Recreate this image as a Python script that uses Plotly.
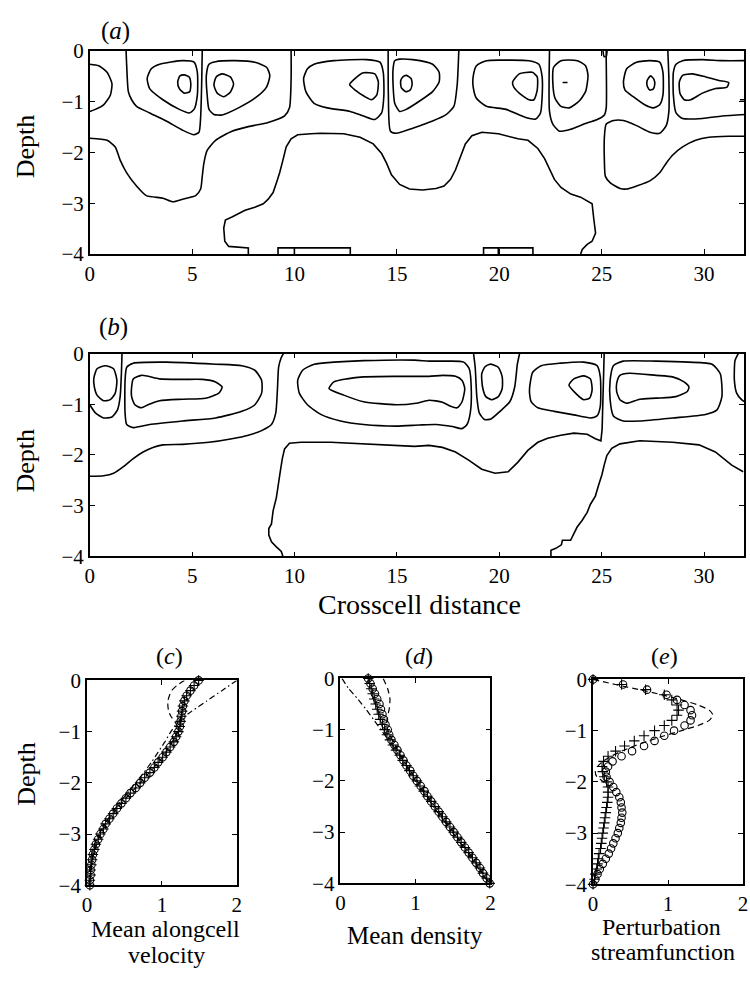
import plotly.graph_objects as go

FONT = "Liberation Serif"

# ---------------- panel (a): traced contour lines (crosscell distance, depth) ----------------
a_edge_cell = [(0, -0.26), (0.43, -0.29), (0.84, -0.42), (1.08, -0.64), (1.0, -0.87), (0.67, -1.06), (0.27, -1.15), (0, -1.19)]
a_open_1 = [(1.77, 0), (1.80, -0.29), (1.88, -0.80), (2.04, -0.96), (2.28, -1.09), (2.92, -1.22), (3.73, -1.38), (4.53, -1.56),
            (5.09, -1.65), (5.33, -1.60), (5.41, -1.31), (5.46, -0.67), (5.49, 0)]
a_ring_1_outer = [(3.41, -0.26), (4.53, -0.19), (5.09, -0.22), (5.25, -0.42), (5.25, -0.87), (5.09, -1.15), (4.85, -1.22), (4.37, -1.15),
                  (3.57, -0.96), (2.92, -0.74), (2.80, -0.54), (3.00, -0.35), (3.41, -0.26)]
a_ring_1_inner = [(4.61, -0.47), (4.85, -0.51), (4.93, -0.64), (4.88, -0.80), (4.61, -0.83), (4.37, -0.74), (4.29, -0.61), (4.40, -0.49), (4.61, -0.47)]
a_ring_2_outer = [(6.14, -0.21), (7.10, -0.19), (8.06, -0.22), (8.63, -0.32), (8.79, -0.48), (8.63, -0.71), (8.06, -0.93), (7.26, -1.12),
                  (6.46, -1.26), (6.06, -1.25), (5.82, -1.15), (5.73, -0.87), (5.69, -0.48), (5.82, -0.26), (6.14, -0.21)]
a_ring_2_inner = [(6.46, -0.45), (6.86, -0.51), (7.02, -0.65), (6.86, -0.81), (6.54, -0.90), (6.22, -0.83), (6.06, -0.67), (6.17, -0.51), (6.46, -0.45)]
a_open_2 = [(9.83, 0), (9.83, -0.54), (9.75, -1.12), (9.51, -1.28), (8.71, -1.41), (7.74, -1.49), (6.94, -1.58), (6.14, -1.76), (5.73, -1.96),
            (5.57, -2.21), (5.49, -2.47), (5.41, -2.72), (5.17, -2.85), (4.53, -2.92), (4.05, -2.97), (3.57, -2.90), (2.76, -2.85),
            (2.28, -2.66), (1.80, -2.40), (1.48, -2.15), (1.24, -1.89), (0.84, -1.76), (0, -1.72)]
a_deep = [(7.74, -4.0), (7.74, -3.88), (6.78, -3.85), (6.59, -3.75), (6.54, -3.49), (6.62, -3.33), (6.94, -3.27), (7.26, -3.21), (7.58, -3.14),
          (8.06, -3.08), (8.47, -3.01), (8.71, -2.92), (8.95, -2.79), (9.11, -2.60), (9.27, -2.40), (9.43, -2.15), (9.59, -1.89), (9.83, -1.73),
          (10.15, -1.65), (10.80, -1.63), (11.27, -1.62), (12.40, -1.63), (13.20, -1.70), (13.84, -1.83), (14.25, -2.02), (14.49, -2.21),
          (14.73, -2.44), (15.13, -2.63), (15.61, -2.72), (16.25, -2.74), (16.90, -2.71), (17.30, -2.66), (17.62, -2.53), (17.86, -2.34),
          (18.10, -2.08), (18.34, -1.83), (18.66, -1.67), (19.15, -1.60), (19.95, -1.63), (20.91, -1.73), (21.40, -1.76), (21.88, -1.92),
          (22.21, -2.12), (22.45, -2.34), (22.69, -2.53), (23.01, -2.69), (23.49, -2.82), (23.97, -2.88), (24.37, -2.97), (24.53, -3.01),
          (24.61, -3.30), (24.70, -3.59), (24.53, -3.75), (24.29, -3.81), (24.05, -3.91), (23.97, -4.0)]
a_bottom_1 = [(9.19, -4.0), (9.19, -3.88), (12.72, -3.88), (12.72, -4.0)]
a_bottom_1b = [(9.99, -3.88), (9.99, -4.0)]
a_bottom_2 = [(19.23, -4.0), (19.23, -3.88), (21.64, -3.88), (21.64, -4.0)]
a_bottom_2b = [(19.95, -3.88), (19.95, -4.0)]
a_ring_3_outer = [(10.63, -0.35), (10.95, -0.26), (11.92, -0.19), (13.52, -0.17), (14.17, -0.22), (14.33, -0.42), (14.36, -0.87), (14.25, -1.22),
                  (13.92, -1.35), (13.36, -1.28), (12.72, -1.19), (11.60, -1.12), (10.95, -1.03), (10.55, -0.80), (10.44, -0.54), (10.63, -0.35)]
a_ring_3_inner = [(12.69, -0.66), (12.96, -0.54), (13.36, -0.43), (13.92, -0.45), (14.09, -0.61), (14.01, -0.87), (13.76, -0.96), (13.44, -0.90),
                  (12.96, -0.77), (12.69, -0.66)]
a_open_3 = [(14.57, 0), (14.58, -0.87), (14.68, -1.58), (14.97, -1.62), (15.77, -1.52), (16.74, -1.38), (17.38, -1.26), (17.78, -1.09),
            (17.94, -0.67), (18.02, 0)]
a_ring_4_outer = [(14.89, -0.19), (15.13, -0.16), (15.77, -0.17), (16.74, -0.26), (17.06, -0.42), (17.06, -0.61), (16.74, -0.80), (16.09, -0.99),
                  (15.45, -1.15), (15.13, -1.19), (14.89, -1.03), (14.81, -0.67), (14.81, -0.35), (14.89, -0.19)]
a_ring_4_inner = [(15.45, -0.48), (15.69, -0.54), (15.74, -0.66), (15.64, -0.77), (15.42, -0.80), (15.21, -0.72), (15.18, -0.59), (15.29, -0.51), (15.45, -0.48)]
a_ring_5_outer = [(18.72, -0.51), (18.88, -0.29), (19.37, -0.19), (20.33, -0.18), (21.45, -0.19), (21.93, -0.26), (22.09, -0.51), (22.09, -0.90),
                  (22.01, -1.22), (21.77, -1.34), (21.29, -1.31), (20.33, -1.15), (19.37, -1.09), (18.88, -0.93), (18.72, -0.70), (18.72, -0.51)]
a_ring_5_inner = [(20.65, -0.61), (20.97, -0.45), (21.61, -0.42), (21.85, -0.51), (21.85, -0.77), (21.69, -0.96), (21.45, -0.96), (20.97, -0.83),
                  (20.68, -0.69), (20.65, -0.61)]
a_open_4 = [(22.45, 0), (22.45, -1.19), (22.61, -1.44), (22.93, -1.58), (23.49, -1.54), (24.13, -1.44), (24.78, -1.35), (25.13, -1.26),
            (25.22, -1.12), (25.22, -0.16), (25.22, 0)]
a_ring_6_outer = [(23.01, -0.19), (23.81, -0.19), (24.21, -0.29), (24.33, -0.48), (24.21, -0.80), (23.89, -0.99), (23.41, -1.12), (23.01, -1.09),
                  (22.72, -0.93), (22.61, -0.61), (22.65, -0.32), (23.01, -0.19)]
a_tick_6 = [(23.09, -0.62), (23.33, -0.62)]
a_top_loop = [(25.06, 0), (25.12, -0.11), (25.22, -0.11), (25.26, 0)]
a_ring_7_outer = [(26.06, -0.61), (26.22, -0.35), (26.70, -0.22), (27.35, -0.19), (27.83, -0.22), (27.99, -0.42), (27.99, -0.87), (27.83, -1.06),
                  (27.51, -1.12), (27.10, -1.06), (26.54, -0.90), (26.14, -0.77), (26.06, -0.61)]
a_ring_7_inner = [(27.39, -0.49), (27.55, -0.56), (27.59, -0.66), (27.51, -0.75), (27.35, -0.77), (27.22, -0.69), (27.22, -0.58), (27.39, -0.49)]
a_open_5 = [(28.23, 0), (28.28, -0.54), (28.28, -1.19), (28.15, -1.47), (27.83, -1.62), (27.35, -1.60), (26.70, -1.47), (26.06, -1.37),
            (25.58, -1.37), (25.22, -1.44), (25.13, -1.70), (25.13, -2.15), (25.18, -2.47), (25.42, -2.60), (25.90, -2.71), (26.22, -2.72),
            (26.70, -2.66), (27.35, -2.56), (27.83, -2.40), (28.15, -2.21), (28.47, -2.05), (28.95, -1.89), (29.59, -1.76), (30.24, -1.70),
            (31.20, -1.68), (32.0, -1.68)]
a_ring_8_outer = [(32.0, -0.19), (30.88, -0.19), (29.92, -0.17), (28.95, -0.19), (28.63, -0.26), (28.50, -0.42), (28.50, -0.87), (28.63, -1.22),
                  (28.95, -1.33), (29.92, -1.33), (30.88, -1.28), (32.0, -1.25)]
a_ring_8_inner = [(28.79, -0.61), (28.95, -0.48), (29.43, -0.45), (30.08, -0.51), (30.72, -0.58), (31.20, -0.62), (31.12, -0.71), (30.56, -0.74),
                  (29.92, -0.83), (29.35, -0.96), (29.03, -0.96), (28.82, -0.83), (28.79, -0.61)]
a_edge_tick = [(31.75, -0.96), (31.95, -0.96)]

# ---------------- panel (b) ----------------
b_edge_inner = [(0.19, -0.50), (0.35, -0.30), (0.76, -0.24), (1.16, -0.30), (1.32, -0.53), (1.24, -0.78), (1.00, -0.91), (0.67, -0.93),
                (0.35, -0.82), (0.22, -0.66), (0.19, -0.50)]
b_edge_outer = [(0, -1.01), (0.27, -1.17), (0.67, -1.27), (1.08, -1.25), (1.35, -1.11), (1.48, -0.85), (1.54, -0.40), (1.57, 0)]
b_ring_1_outer = [(1.80, -0.27), (2.12, -0.19), (3.73, -0.17), (6.14, -0.21), (7.42, -0.24), (8.06, -0.33), (8.39, -0.53), (8.39, -0.78),
                  (8.06, -1.01), (7.42, -1.14), (6.14, -1.27), (4.53, -1.33), (2.92, -1.40), (2.12, -1.46), (1.80, -1.40), (1.72, -1.17),
                  (1.72, -0.53), (1.80, -0.27)]
b_ring_1_inner = [(2.12, -0.50), (2.52, -0.43), (3.41, -0.50), (4.53, -0.51), (5.49, -0.51), (6.14, -0.56), (6.46, -0.66), (6.30, -0.78),
                  (5.65, -0.88), (4.53, -0.90), (3.41, -0.93), (2.84, -1.01), (2.52, -1.07), (2.20, -1.01), (2.04, -0.85), (2.04, -0.66), (2.12, -0.50)]
b_open_1 = [(0, -2.42), (0.67, -2.41), (1.16, -2.36), (1.64, -2.23), (2.12, -2.07), (2.60, -1.94), (3.08, -1.85), (3.57, -1.80), (4.53, -1.79),
            (5.82, -1.75), (6.94, -1.68), (7.74, -1.61), (8.39, -1.52), (8.87, -1.40), (9.08, -1.17), (9.16, -0.72), (9.22, -0.27), (9.35, -0.08), (9.45, 0)]
b_deep_1 = [(9.43, -4.0), (9.35, -3.90), (9.11, -3.81), (8.87, -3.71), (8.74, -3.58), (8.74, -3.45), (8.87, -3.36), (8.95, -3.10), (9.11, -2.84),
            (9.22, -2.59), (9.30, -2.33), (9.40, -2.07), (9.51, -1.88), (9.75, -1.77), (10.31, -1.75), (11.76, -1.75), (13.37, -1.78),
            (14.97, -1.81), (15.86, -1.83), (16.57, -1.81), (17.22, -1.85), (17.86, -1.94), (18.50, -2.10), (19.14, -2.28), (19.79, -2.36),
            (20.43, -2.33), (20.91, -2.14), (21.39, -1.91), (21.88, -1.75), (22.36, -1.67), (23.00, -1.61), (23.64, -1.57), (24.29, -1.59),
            (24.69, -1.68), (24.96, -1.72), (25.02, -1.49), (25.06, -0.85), (25.09, -0.27), (25.12, 0)]
b_ring_2_outer = [(10.96, -0.21), (11.92, -0.17), (13.37, -0.14), (15.86, -0.13), (16.57, -0.15), (17.54, -0.15), (18.26, -0.17), (18.53, -0.30),
                  (18.63, -0.72), (18.58, -1.17), (18.42, -1.40), (18.18, -1.48), (17.70, -1.44), (16.90, -1.40), (16.09, -1.41), (14.97, -1.43),
                  (13.37, -1.40), (12.24, -1.33), (11.28, -1.20), (10.63, -1.01), (10.23, -0.78), (10.15, -0.53), (10.39, -0.33), (10.96, -0.21)]
b_ring_2_inner = [(11.68, -0.69), (11.92, -0.56), (12.56, -0.50), (13.37, -0.46), (14.97, -0.45), (16.57, -0.45), (17.22, -0.43), (17.86, -0.45),
                  (18.18, -0.53), (18.31, -0.69), (18.18, -0.95), (17.94, -1.07), (17.62, -1.04), (17.22, -0.96), (16.57, -0.92), (15.93, -0.98),
                  (14.97, -1.01), (13.37, -0.95), (12.40, -0.82), (11.68, -0.69)]
b_open_2 = [(18.74, 0), (18.82, -0.27), (18.90, -0.85), (19.02, -1.17), (19.27, -1.30), (19.59, -1.29), (20.03, -1.14), (20.51, -0.95),
            (20.75, -0.66), (20.88, -0.21), (20.99, 0)]
b_ring_3_inner = [(19.55, -0.21), (19.95, -0.27), (20.14, -0.46), (20.14, -0.69), (19.95, -0.85), (19.63, -0.91), (19.34, -0.85), (19.18, -0.66),
                  (19.14, -0.40), (19.30, -0.26), (19.55, -0.21)]
b_ring_4_outer = [(21.63, -0.37), (22.04, -0.24), (23.00, -0.19), (24.12, -0.17), (24.77, -0.24), (24.93, -0.46), (24.93, -1.04), (24.77, -1.23),
                  (24.45, -1.27), (23.64, -1.21), (22.68, -1.14), (21.88, -1.07), (21.55, -0.95), (21.47, -0.72), (21.63, -0.37)]
b_ring_4_inner = [(23.40, -0.62), (23.64, -0.50), (24.12, -0.44), (24.45, -0.50), (24.53, -0.72), (24.41, -0.88), (24.12, -0.91), (23.72, -0.78), (23.40, -0.62)]
b_ring_5_outer = [(25.41, -0.53), (25.57, -0.24), (26.05, -0.15), (27.66, -0.15), (29.26, -0.17), (30.39, -0.21), (30.79, -0.40), (30.87, -0.85),
                  (30.63, -1.11), (30.07, -1.20), (28.46, -1.27), (26.86, -1.33), (26.05, -1.33), (25.57, -1.23), (25.41, -0.91), (25.41, -0.53)]
b_ring_5_inner = [(25.73, -0.59), (25.89, -0.43), (26.37, -0.39), (27.66, -0.43), (28.46, -0.46), (29.02, -0.56), (29.26, -0.66), (29.18, -0.75),
                  (28.62, -0.85), (27.66, -0.88), (26.86, -0.90), (26.21, -0.98), (25.89, -0.91), (25.73, -0.75), (25.73, -0.59)]
b_deep_2 = [(22.52, -4.0), (22.52, -3.88), (22.76, -3.84), (23.03, -3.77), (23.08, -3.68), (23.48, -3.68), (23.64, -3.55), (23.80, -3.42),
            (24.04, -3.29), (24.29, -3.13), (24.45, -2.97), (24.69, -2.81), (24.85, -2.59), (25.01, -2.39), (25.12, -2.20), (25.25, -2.01),
            (25.49, -1.87), (25.89, -1.78), (26.86, -1.72), (28.46, -1.75), (29.75, -1.80), (30.55, -1.94), (31.35, -2.20), (31.91, -2.33)]
b_edge_right = [(31.67, 0), (31.51, -0.14), (31.48, -0.53), (31.59, -0.78), (31.83, -0.91), (31.96, -0.95)]

# ---------------- panels (c)-(e): profiles ----------------
DEPTH = [0.0, -0.1, -0.2, -0.3, -0.4, -0.5, -0.6, -0.7, -0.8, -0.9, -1.0, -1.1, -1.2, -1.3, -1.4, -1.5, -1.6, -1.7, -1.8, -1.9, -2.0,
         -2.1, -2.2, -2.3, -2.4, -2.5, -2.6, -2.7, -2.8, -2.9, -3.0, -3.1, -3.2, -3.3, -3.4, -3.5, -3.6, -3.7, -3.8, -3.9, -4.0]

c_circles = [1.49, 1.43, 1.38, 1.33, 1.30, 1.28, 1.27, 1.26, 1.25, 1.24, 1.22, 1.19, 1.16, 1.11, 1.06, 1.01, 0.95, 0.90, 0.84, 0.77, 0.71,
             0.65, 0.58, 0.52, 0.46, 0.40, 0.35, 0.30, 0.25, 0.22, 0.18, 0.15, 0.12, 0.10, 0.08, 0.07, 0.06, 0.05, 0.05, 0.04, 0.04]
c_crosses = [1.49, 1.43, 1.38, 1.33, 1.30, 1.28, 1.27, 1.26, 1.25, 1.24, 1.22, 1.19, 1.16, 1.11, 1.06, 1.01, 0.95, 0.90, 0.84, 0.77, 0.71,
             0.65, 0.58, 0.52, 0.46, 0.40, 0.35, 0.30, 0.25, 0.22, 0.18, 0.15, 0.12, 0.10, 0.08, 0.07, 0.06, 0.05, 0.05, 0.04, 0.04]
c_dash_depth = [0.0, -0.1, -0.2, -0.3, -0.4, -0.5, -0.6, -0.7, -0.8, -0.9, -1.0, -1.5, -2.0, -2.5, -3.0, -3.5, -4.0]
c_dash = [1.30, 1.20, 1.13, 1.10, 1.08, 1.08, 1.09, 1.12, 1.17, 1.21, 1.21, 1.01, 0.71, 0.40, 0.18, 0.07, 0.04]
c_dashdot_depth = [0.0, -0.2, -0.4, -0.6, -0.8, -1.0, -1.2, -1.4, -1.6, -1.8, -2.0, -2.2, -2.4, -2.6, -2.8, -3.0, -3.2, -3.4, -3.6, -3.8, -4.0]
c_dashdot = [2.0, 1.80, 1.60, 1.40, 1.22, 1.12, 1.04, 0.95, 0.86, 0.76, 0.65, 0.54, 0.43, 0.33, 0.24, 0.16, 0.10, 0.06, 0.04, 0.03, 0.03]

d_circles = [0.37, 0.40, 0.43, 0.46, 0.49, 0.52, 0.54, 0.56, 0.58, 0.60, 0.63, 0.65, 0.68, 0.72, 0.76, 0.80, 0.84, 0.88, 0.93, 0.97, 1.02,
             1.07, 1.12, 1.16, 1.21, 1.26, 1.31, 1.36, 1.41, 1.46, 1.51, 1.56, 1.61, 1.66, 1.71, 1.76, 1.81, 1.86, 1.90, 1.95, 1.99]
d_crosses = [0.37, 0.39, 0.41, 0.43, 0.45, 0.47, 0.49, 0.51, 0.53, 0.56, 0.59, 0.62, 0.66, 0.70, 0.74, 0.79, 0.83, 0.88, 0.92, 0.97, 1.02,
             1.06, 1.11, 1.16, 1.21, 1.26, 1.31, 1.36, 1.41, 1.46, 1.51, 1.56, 1.61, 1.66, 1.71, 1.76, 1.81, 1.86, 1.90, 1.95, 1.99]
d_dash_depth = [0.0, -0.2, -0.4, -0.6, -0.8, -1.0, -1.5, -2.0, -2.5, -3.0, -3.5, -4.0]
d_dash = [0.57, 0.63, 0.66, 0.65, 0.62, 0.63, 0.80, 1.02, 1.26, 1.51, 1.76, 1.99]
d_dashdot_depth = [0.0, -0.2, -0.4, -0.6, -0.8, -1.0, -1.2, -1.5, -2.0, -2.5, -3.0, -3.5, -4.0]
d_dashdot = [0.02, 0.11, 0.23, 0.34, 0.44, 0.54, 0.64, 0.79, 1.0, 1.24, 1.49, 1.74, 1.98]

e_circles = [0.0, 0.40, 0.72, 0.98, 1.12, 1.22, 1.30, 1.32, 1.30, 1.22, 1.08, 0.95, 0.82, 0.68, 0.52, 0.38, 0.26, 0.20, 0.17, 0.18, 0.22,
             0.27, 0.31, 0.35, 0.37, 0.38, 0.39, 0.38, 0.37, 0.35, 0.33, 0.30, 0.27, 0.24, 0.21, 0.17, 0.13, 0.09, 0.06, 0.03, 0.0]
e_crosses = [0.0, 0.38, 0.70, 0.95, 1.05, 1.12, 1.14, 1.12, 1.05, 0.95, 0.82, 0.68, 0.55, 0.42, 0.30, 0.20, 0.14, 0.12, 0.13, 0.15, 0.18,
             0.20, 0.20, 0.20, 0.19, 0.18, 0.17, 0.16, 0.15, 0.14, 0.13, 0.12, 0.11, 0.10, 0.08, 0.07, 0.06, 0.05, 0.03, 0.02, 0.0]
e_dash_depth = [0.0, -0.1, -0.2, -0.3, -0.4, -0.5, -0.6, -0.7, -0.8, -0.9, -1.0, -1.1, -1.2, -1.3, -1.4, -1.5, -1.6, -1.7, -1.8, -1.9, -2.0, -2.1]
e_dash = [0.0, 0.30, 0.62, 0.92, 1.18, 1.40, 1.55, 1.60, 1.55, 1.40, 1.18, 0.95, 0.74, 0.55, 0.38, 0.24, 0.13, 0.06, 0.03, 0.05, 0.14, 0.19]

X_TICKS_TOP = [0, 5, 10, 15, 20, 25, 30]
X_TICKS_PROF = [0, 1, 2]
Y_TICKS = [0, -1, -2, -3, -4]

# ---------------- figure ----------------
fig = go.Figure()
LW = 1.6


def add_path(pts, xa, ya, smooth=True):
    line = dict(color="black", width=LW)
    if smooth:
        line.update(shape="spline", smoothing=0.6)
    fig.add_trace(go.Scatter(x=[p[0] for p in pts], y=[p[1] for p in pts], mode="lines", line=line,
                             xaxis=xa, yaxis=ya, showlegend=False, hoverinfo="skip"))


smooth_a = [a_edge_cell, a_open_1, a_ring_1_outer, a_ring_1_inner, a_ring_2_outer, a_ring_2_inner, a_open_2,
            a_ring_3_outer, a_ring_3_inner, a_open_3, a_ring_4_outer, a_ring_4_inner, a_ring_5_outer, a_ring_5_inner,
            a_open_4, a_ring_6_outer, a_top_loop, a_ring_7_outer, a_ring_7_inner, a_open_5, a_ring_8_outer, a_ring_8_inner]
sharp_a = [a_deep, a_bottom_1, a_bottom_1b, a_bottom_2, a_bottom_2b, a_tick_6, a_edge_tick]
for p in smooth_a:
    add_path(p, "x", "y")
for p in sharp_a:
    add_path(p, "x", "y", smooth=False)

smooth_b = [b_edge_inner, b_edge_outer, b_ring_1_outer, b_ring_1_inner, b_open_1, b_ring_2_outer, b_ring_2_inner,
            b_open_2, b_ring_3_inner, b_ring_4_outer, b_ring_4_inner, b_ring_5_outer, b_ring_5_inner, b_edge_right]
sharp_b = [b_deep_1, b_deep_2]
for p in smooth_b:
    add_path(p, "x2", "y2")
for p in sharp_b:
    add_path(p, "x2", "y2", smooth=False)


def add_line(xv, yv, xa, ya, dash):
    fig.add_trace(go.Scatter(x=xv, y=yv, mode="lines", line=dict(color="black", width=1.2, dash=dash, shape="spline", smoothing=0.5),
                             xaxis=xa, yaxis=ya, showlegend=False, hoverinfo="skip"))


def add_markers(xv, yv, xa, ya, symbol):
    fig.add_trace(go.Scatter(x=xv, y=yv, mode="markers", cliponaxis=False,
                             marker=dict(symbol=symbol, size=7.5, color="black", line=dict(color="black", width=1.1)),
                             xaxis=xa, yaxis=ya, showlegend=False, hoverinfo="skip"))


DASH = "6px,4px"
DASHDOT = "6px,3px,1.5px,3px"
# (c)
add_line(c_dash, c_dash_depth, "x3", "y3", DASH)
add_line(c_dashdot, c_dashdot_depth, "x3", "y3", DASHDOT)
add_markers(c_circles, DEPTH, "x3", "y3", "circle-open")
add_markers(c_crosses, DEPTH, "x3", "y3", "cross-thin-open")
# (d)
add_line(d_dash, d_dash_depth, "x4", "y4", DASH)
add_line(d_dashdot, d_dashdot_depth, "x4", "y4", DASHDOT)
add_markers(d_circles, DEPTH, "x4", "y4", "circle-open")
add_markers(d_crosses, DEPTH, "x4", "y4", "cross-thin-open")
# (e)
add_line(e_dash, e_dash_depth, "x5", "y5", DASH)
add_markers(e_circles, DEPTH, "x5", "y5", "circle-open")
add_markers(e_crosses, DEPTH, "x5", "y5", "cross-thin-open")

W, H = 750, 990


def dx(p0, p1):
    return [p0 / W, p1 / W]


def dy(top, bottom):
    return [1 - bottom / H, 1 - top / H]


axis_common = dict(showline=True, linecolor="black", linewidth=1.6, mirror="ticks", ticks="inside", ticklen=5,
                   tickwidth=1.2, tickcolor="black", showgrid=False, zeroline=False,
                   tickfont=dict(family=FONT, size=21, color="black"))

fig.update_layout(
    width=W, height=H, margin=dict(l=0, r=0, t=0, b=0),
    paper_bgcolor="white", plot_bgcolor="white", showlegend=False,
    xaxis=dict(domain=dx(86, 749), range=[0, 31.95], tickvals=X_TICKS_TOP, anchor="y", **axis_common),
    yaxis=dict(domain=dy(40, 248), range=[-4, 0], tickvals=Y_TICKS, anchor="x", **axis_common),
    xaxis2=dict(domain=dx(86, 749), range=[0, 31.95], tickvals=X_TICKS_TOP, anchor="y2", **axis_common),
    yaxis2=dict(domain=dy(350, 558), range=[-4, 0], tickvals=Y_TICKS, anchor="x2", **axis_common),
    xaxis3=dict(domain=dx(83, 235), range=[0, 2], tickvals=X_TICKS_PROF, anchor="y3", **axis_common),
    yaxis3=dict(domain=dy(685, 895), range=[-4, 0], tickvals=Y_TICKS, anchor="x3", **axis_common),
    xaxis4=dict(domain=dx(340, 492), range=[0, 2], tickvals=X_TICKS_PROF, anchor="y4", **axis_common),
    yaxis4=dict(domain=dy(683, 893), range=[-4, 0], tickvals=Y_TICKS, anchor="x4", **axis_common),
    xaxis5=dict(domain=dx(596, 748), range=[0, 2], tickvals=X_TICKS_PROF, anchor="y5", **axis_common),
    yaxis5=dict(domain=dy(684, 894), range=[-4, 0], tickvals=Y_TICKS, anchor="x5", **axis_common),
)


def note(text, px, py, size, angle=0):
    fig.add_annotation(text=text, x=px / W, y=1 - py / H, xref="paper", yref="paper", showarrow=False,
                       xanchor="center", yanchor="middle", textangle=angle,
                       font=dict(family=FONT, size=size, color="black"))


note("(<i>a</i>)", 112, 19, 25)
note("(<i>b</i>)", 110, 323, 25)
note("Depth", 21, 138, 26, -90)
note("Depth", 21, 460, 26, -90)
note("Crosscell distance", 420, 607, 28)
note("(<i>c</i>)", 167, 660, 24)
note("(<i>d</i>)", 420, 660, 24)
note("(<i>e</i>)", 668, 660, 24)
note("Depth", 21, 781, 26, -90)
note("Mean alongcell", 163, 940, 24)
note("velocity", 164, 966, 24)
note("Mean density", 416, 946, 25)
note("Perturbation", 665, 938, 24)
note("streamfunction", 667, 963, 24)

fig.write_html("out.html")
